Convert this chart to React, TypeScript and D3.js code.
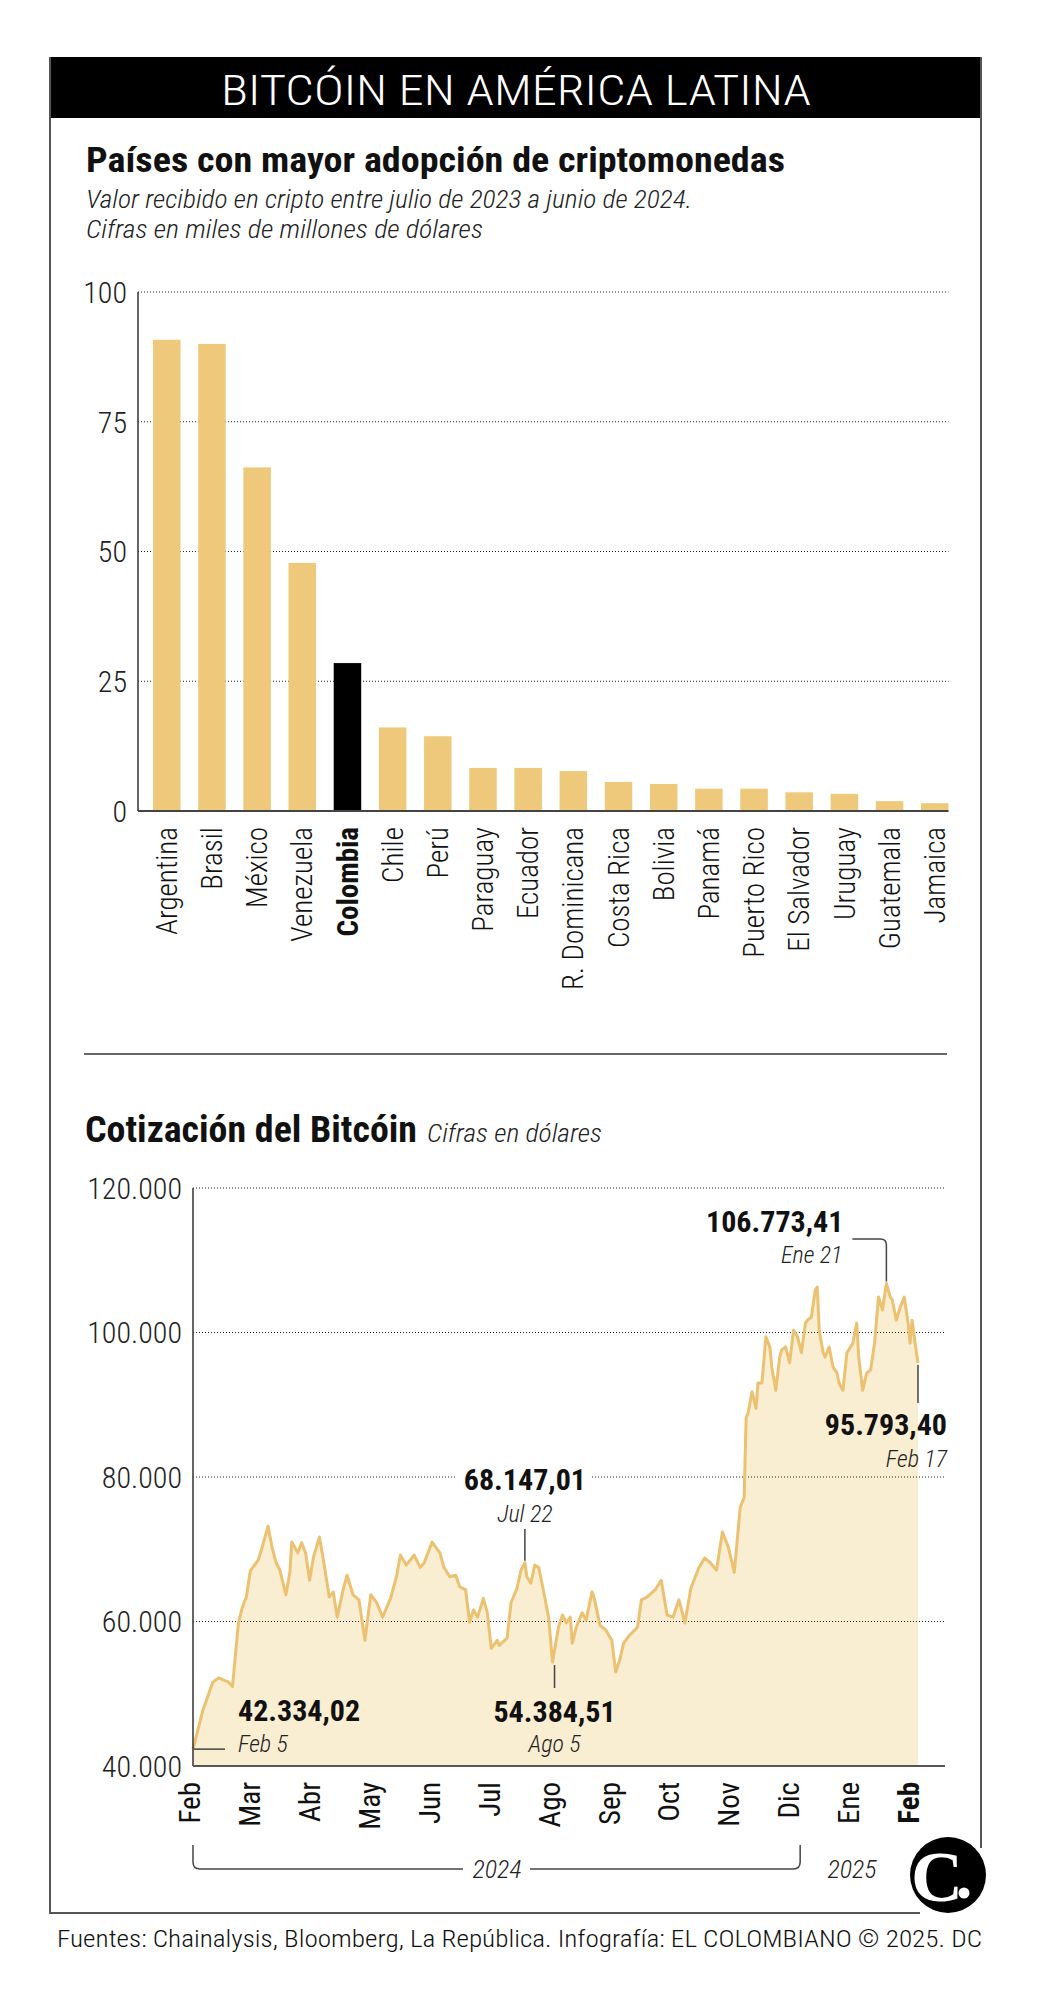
import React from 'react';
import * as d3 from 'd3';

const countries = ["Argentina","Brasil","México","Venezuela","Colombia","Chile","Perú","Paraguay","Ecuador","R. Dominicana","Costa Rica","Bolivia","Panamá","Puerto Rico","El Salvador","Uruguay","Guatemala","Jamaica"];
const adoption = [90.8, 90.0, 66.2, 47.8, 28.5, 16.1, 14.4, 8.3, 8.3, 7.7, 5.6, 5.2, 4.3, 4.3, 3.6, 3.3, 1.9, 1.5];
const highlightCountry = "Colombia";
const barTicks = [0, 25, 50, 75, 100];

const btcDates = ["2024-02-05","2024-02-10","2024-02-15","2024-02-18","2024-02-23","2024-02-25","2024-02-28","2024-03-01","2024-03-03","2024-03-05","2024-03-09","2024-03-11","2024-03-14","2024-03-16","2024-03-18","2024-03-20","2024-03-23","2024-03-25","2024-03-26","2024-03-29","2024-03-31","2024-04-02","2024-04-04","2024-04-06","2024-04-09","2024-04-11","2024-04-14","2024-04-16","2024-04-18","2024-04-21","2024-04-23","2024-04-26","2024-04-29","2024-05-02","2024-05-05","2024-05-08","2024-05-11","2024-05-15","2024-05-18","2024-05-20","2024-05-23","2024-05-27","2024-05-30","2024-06-01","2024-06-05","2024-06-09","2024-06-11","2024-06-14","2024-06-17","2024-06-19","2024-06-22","2024-06-24","2024-06-26","2024-06-28","2024-07-01","2024-07-03","2024-07-05","2024-07-08","2024-07-09","2024-07-13","2024-07-15","2024-07-18","2024-07-20","2024-07-22","2024-07-23","2024-07-25","2024-07-27","2024-07-29","2024-07-31","2024-08-03","2024-08-05","2024-08-08","2024-08-10","2024-08-12","2024-08-14","2024-08-15","2024-08-17","2024-08-20","2024-08-22","2024-08-25","2024-08-26","2024-08-29","2024-09-01","2024-09-04","2024-09-06","2024-09-08","2024-09-10","2024-09-13","2024-09-17","2024-09-19","2024-09-22","2024-09-26","2024-09-29","2024-10-02","2024-10-05","2024-10-08","2024-10-11","2024-10-14","2024-10-18","2024-10-21","2024-10-24","2024-10-27","2024-10-30","2024-11-02","2024-11-05","2024-11-08","2024-11-10","2024-11-11","2024-11-12","2024-11-14","2024-11-16","2024-11-17","2024-11-19","2024-11-21","2024-11-23","2024-11-24","2024-11-26","2024-11-28","2024-11-29","2024-12-01","2024-12-03","2024-12-05","2024-12-07","2024-12-09","2024-12-11","2024-12-12","2024-12-14","2024-12-16","2024-12-17","2024-12-18","2024-12-20","2024-12-21","2024-12-23","2024-12-25","2024-12-27","2024-12-28","2024-12-30","2025-01-01","2025-01-04","2025-01-06","2025-01-07","2025-01-09","2025-01-11","2025-01-13","2025-01-15","2025-01-17","2025-01-18","2025-01-19","2025-01-21","2025-01-23","2025-01-24","2025-01-26","2025-01-28","2025-01-30","2025-02-01","2025-02-02","2025-02-03","2025-02-05","2025-02-06"];
const btcValues = [42334,47700,51600,52200,51600,51000,59800,62000,63400,67000,68500,70300,73200,70300,68200,67100,63700,66700,71000,69500,70900,69500,65700,68900,71700,68500,63400,64100,60600,64400,66400,63700,63000,57400,63700,62600,60600,63200,66200,69200,67800,69200,67500,68100,71000,69500,67500,66200,66400,64800,64400,59900,61600,60600,63200,61200,56300,57400,56700,57700,62600,64600,67100,68147,66200,65300,67800,67500,64800,60600,54384,59200,60900,59800,60600,57000,59200,61200,60200,64100,63400,59500,58800,57400,53000,54700,57000,58100,59200,63000,63400,64400,65700,60900,60600,63000,59800,64600,67400,68800,68100,67100,72400,70300,66800,75800,77200,88200,88900,91800,89500,93000,93000,99400,98000,95200,92000,96600,97600,98000,95800,100300,99400,97200,101300,101700,102100,105900,106300,100300,97200,96600,98000,95200,94400,93000,92000,97200,98500,101300,96600,92000,94400,94800,98500,104900,104100,103100,106773,104900,104500,101700,103500,104900,101300,98500,101700,97600,95793];
const priceTicks = [40000, 60000, 80000, 100000, 120000];
const monthLabels = ["Feb","Mar","Abr","May","Jun","Jul","Ago","Sep","Oct","Nov","Dic","Ene","Feb"];
const annotationDates = ["2024-02-05","2024-08-05","2024-07-22","2025-01-21","2025-02-06"];
const annotationValues = ["42.334,02","54.384,51","68.147,01","106.773,41","95.793,40"];
const annotationLabels = ["Feb 5","Ago 5","Jul 22","Ene 21","Feb 17"];

const COND = "'Roboto Condensed', Roboto, sans-serif";
const BAR = "#EFC97B";
const LINE = "#ECC170";
const AREA = "#F9EDD2";

const esLocale = d3.formatLocale({ decimal: ",", thousands: ".", grouping: [3], currency: ["$", ""] });
const fmtThousands = esLocale.format(",");

export default function App() {
  const xBar = d3.scaleBand<string>().domain(countries).range([153, 948.5]).paddingInner(0.391).paddingOuter(0);
  const yBar = d3.scaleLinear().domain([0, 100]).range([811, 292]);

  const parse = d3.timeParse("%Y-%m-%d");
  const series = btcDates.map((d, i) => ({ date: parse(d) as Date, value: btcValues[i] }));
  const xTime = d3.scaleTime().domain([parse("2024-02-05") as Date, parse("2025-02-06") as Date]).range([193, 918]);
  const yPrice = d3.scaleLinear().domain([40000, 120000]).range([1766, 1188]);
  const xMonth = d3.scalePoint<number>().domain(monthLabels.map((_, i) => i)).range([190, 909]);

  const line = d3.line<{ date: Date; value: number }>().x(d => xTime(d.date)).y(d => yPrice(d.value));
  const area = d3.area<{ date: Date; value: number }>().x(d => xTime(d.date)).y0(yPrice(40000)).y1(d => yPrice(d.value));

  const ann = annotationDates.map((d, i) => {
    const v = parseFloat(annotationValues[i].replace(/\./g, "").replace(",", "."));
    return { x: xTime(parse(d) as Date), y: yPrice(v), value: annotationValues[i], label: annotationLabels[i] };
  });

  const valStyle = { fontFamily: COND, fontWeight: 700, fontSize: 30, fill: "#111" } as React.CSSProperties;
  const dateStyle = { fontFamily: COND, fontWeight: 300, fontStyle: "italic", fontSize: 24, fill: "#222" } as React.CSSProperties;

  const bracketLeft = xMonth(0)! + 3;
  const bracketRight = xMonth(10)! + 11;
  const bY = 1869;

  return (
    <svg width={1038} height={2000} style={{ position: "absolute", left: 0, top: 0, background: "#fff" }}>
      <rect x={50} y={57} width={931} height={61} fill="#000" />
      <path d={`M50,57 V1913 H920 M981,57 V1848`} fill="none" stroke="#555" strokeWidth={2} />
      <text x={516} y={105} textAnchor="middle" fill="#fff" style={{ fontFamily: COND, fontSize: 42, fontWeight: 300 }} textLength={590} lengthAdjust="spacingAndGlyphs">BITCÓIN EN AMÉRICA LATINA</text>

      <text x={86} y={172} style={{ fontFamily: COND, fontSize: 35, fontWeight: 700 }} fill="#111" textLength={699} lengthAdjust="spacingAndGlyphs">Países con mayor adopción de criptomonedas</text>
      <text x={86} y={208} style={{ fontFamily: COND, fontSize: 25, fontWeight: 300, fontStyle: "italic" }} fill="#222" textLength={606} lengthAdjust="spacingAndGlyphs">Valor recibido en cripto entre julio de 2023 a junio de 2024.</text>
      <text x={86} y={238} style={{ fontFamily: COND, fontSize: 25, fontWeight: 300, fontStyle: "italic" }} fill="#222" textLength={397} lengthAdjust="spacingAndGlyphs">Cifras en miles de millones de dólares</text>

      {barTicks.filter(t => t > 0).map(t => (
        <line key={t} x1={138} x2={948.5} y1={yBar(t)} y2={yBar(t)} stroke="#222" strokeWidth={1.2} strokeDasharray="1,2" />
      ))}
      {barTicks.map(t => (
        <text key={t} x={127} y={yBar(t)} dy="0.36em" textAnchor="end" style={{ fontFamily: COND, fontSize: 30, fontWeight: 300 }} fill="#222">{t}</text>
      ))}
      {countries.map((c, i) => (
        <rect key={c} x={xBar(c)} y={yBar(adoption[i])} width={xBar.bandwidth()} height={yBar(0) - yBar(adoption[i])} fill={c === highlightCountry ? "#000" : BAR} />
      ))}
      <line x1={138} x2={138} y1={292} y2={811} stroke="#333" strokeWidth={1.5} />
      <line x1={138} x2={948.5} y1={811} y2={811} stroke="#444" strokeWidth={2} />
      {countries.map(c => (
        <text key={c} transform={`translate(${xBar(c)! + xBar.bandwidth() / 2},827) rotate(-90)`} dy="0.35em" textAnchor="end"
          style={{ fontFamily: COND, fontSize: 29, fontWeight: c === highlightCountry ? 700 : 300 }} fill="#111">{c}</text>
      ))}

      <line x1={84} x2={947} y1={1054} y2={1054} stroke="#333" strokeWidth={1.5} />

      <text x={85} y={1142} style={{ fontFamily: COND, fontSize: 36, fontWeight: 700 }} fill="#111" textLength={332} lengthAdjust="spacingAndGlyphs">Cotización del Bitcóin</text>
      <text x={427} y={1142} style={{ fontFamily: COND, fontSize: 25, fontWeight: 300, fontStyle: "italic" }} fill="#222" textLength={175} lengthAdjust="spacingAndGlyphs">Cifras en dólares</text>

      <path d={area(series) || ""} fill={AREA} />
      {priceTicks.filter(t => t > 40000).map(t => (
        <line key={t} x1={193} x2={945} y1={yPrice(t)} y2={yPrice(t)} stroke="#222" strokeWidth={1.2} strokeDasharray="1,2" />
      ))}
      <rect x={455} y={1466} width={137} height={22} fill="#fff" />
      {priceTicks.map(t => (
        <text key={t} x={182} y={yPrice(t)} dy="0.36em" textAnchor="end" style={{ fontFamily: COND, fontSize: 30, fontWeight: 300 }} fill="#222">{fmtThousands(t)}</text>
      ))}
      <path d={line(series) || ""} fill="none" stroke={LINE} strokeWidth={3} strokeLinejoin="round" />
      <line x1={193} x2={193} y1={1188} y2={1766} stroke="#333" strokeWidth={1.5} />
      <line x1={193} x2={945} y1={1766} y2={1766} stroke="#555" strokeWidth={2} />

      {monthLabels.map((m, i) => (
        <text key={i} transform={`translate(${xMonth(i)},1782) rotate(-90)`} dy="0.35em" textAnchor="end"
          style={{ fontFamily: COND, fontSize: 29, fontWeight: i === monthLabels.length - 1 ? 700 : 400 }} fill="#111">{m}</text>
      ))}

      <path d={`M${bracketLeft},1845 V${bY - 7} Q${bracketLeft},${bY} ${bracketLeft + 7},${bY} H463 M530,${bY} H${bracketRight - 7} Q${bracketRight},${bY} ${bracketRight},${bY - 7} V1845`} fill="none" stroke="#444" strokeWidth={1.5} />
      <text x={497} y={1878} textAnchor="middle" style={{ fontFamily: COND, fontSize: 26, fontWeight: 300, fontStyle: "italic" }} fill="#222">2024</text>
      <text x={852} y={1878} textAnchor="middle" style={{ fontFamily: COND, fontSize: 26, fontWeight: 300, fontStyle: "italic" }} fill="#222">2025</text>

      <line x1={ann[0].x + 1} x2={ann[0].x + 32} y1={ann[0].y} y2={ann[0].y} stroke="#444" strokeWidth={1.5} />
      <text x={ann[0].x + 45} y={1721} style={valStyle}>{ann[0].value}</text>
      <text x={ann[0].x + 45} y={1752} style={dateStyle}>{ann[0].label}</text>

      <line x1={ann[1].x + 2} x2={ann[1].x + 2} y1={ann[1].y + 3} y2={1688} stroke="#444" strokeWidth={1.5} />
      <text x={ann[1].x + 2} y={1722} textAnchor="middle" style={valStyle}>{ann[1].value}</text>
      <text x={ann[1].x + 2} y={1752} textAnchor="middle" style={dateStyle}>{ann[1].label}</text>

      <line x1={ann[2].x} x2={ann[2].x} y1={1529} y2={ann[2].y - 2} stroke="#444" strokeWidth={1.5} />
      <text x={ann[2].x} y={1490} textAnchor="middle" style={valStyle}>{ann[2].value}</text>
      <text x={ann[2].x} y={1522} textAnchor="middle" style={dateStyle}>{ann[2].label}</text>

      <path d={`M${ann[3].x},${ann[3].y - 2} V1245 Q${ann[3].x},1239 ${ann[3].x - 6},1239 H${ann[3].x - 34}`} fill="none" stroke="#444" strokeWidth={1.5} />
      <text x={ann[3].x - 43} y={1232} textAnchor="end" style={valStyle}>{ann[3].value}</text>
      <text x={ann[3].x - 44} y={1263} textAnchor="end" style={dateStyle}>{ann[3].label}</text>

      <line x1={ann[4].x} x2={ann[4].x} y1={ann[4].y + 2} y2={1403} stroke="#444" strokeWidth={1.5} />
      <text x={947} y={1435} textAnchor="end" style={valStyle}>{ann[4].value}</text>
      <text x={947} y={1467} textAnchor="end" style={dateStyle}>{ann[4].label}</text>

      <circle cx={948} cy={1875} r={38} fill="#000" />
      <text x={937} y={1901} textAnchor="middle" style={{ fontFamily: "'Liberation Serif', serif", fontWeight: 700, fontSize: 72 }} fill="#fff">C</text>
      <circle cx={964} cy={1893} r={5.5} fill="#fff" />

      <text x={57} y={1947} style={{ fontFamily: COND, fontSize: 24, fontWeight: 300 }} fill="#111" textLength={925} lengthAdjust="spacingAndGlyphs">Fuentes: Chainalysis, Bloomberg, La República. Infografía: EL COLOMBIANO © 2025. DC</text>
    </svg>
  );
}
